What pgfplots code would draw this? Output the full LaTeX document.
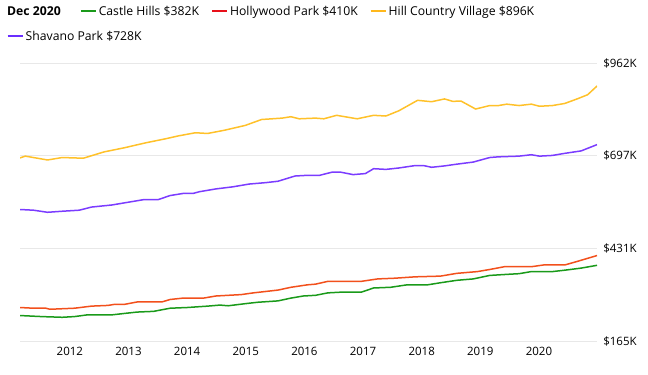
\documentclass[border=0pt]{standalone}
\usepackage{pgfplots}
\pgfplotsset{compat=1.18}
\usepackage{fontspec}
\setmainfont{Open Sans}
\definecolor{cgreen}{HTML}{1A9A1A}
\definecolor{cred}{HTML}{F2501C}
\definecolor{cyellow}{HTML}{FFC12A}
\definecolor{cpurple}{HTML}{7B3CFF}
\definecolor{lgreen}{HTML}{1A9A1A}
\definecolor{lred}{HTML}{E8101A}
\definecolor{lyellow}{HTML}{FFB81C}
\definecolor{lpurple}{HTML}{6A2EFF}
\definecolor{cgrid}{HTML}{E8E8E8}
\newcommand{\swatch}[1]{{\color{#1}\rule[0.28em]{15bp}{1.7bp}}\hspace{3bp}}
\begin{document}
\fontsize{12.2bp}{14bp}\selectfont
\begin{tikzpicture}[x=1bp,y=1bp]
\useasboundingbox (0,0) rectangle (648,374);
\begin{axis}[
  at={(20bp,33bp)}, anchor=south west,
  scale only axis, width=577bp, height=278bp,
  xmin=2011.15, xmax=2020.99, ymin=165, ymax=962,
  axis line style={draw=none},
  major tick length=0pt,
  xtick={2012,2013,2014,2015,2016,2017,2018,2019,2020},
  xticklabels={2012,2013,2014,2015,2016,2017,2018,2019,2020},
  ytick={165,431,697,962},
  yticklabels={\$165K,\$431K,\$697K,\$962K},
  yticklabel pos=right,
  ymajorgrids, grid style={cgrid, line width=0.8bp},
  /pgf/number format/assume math mode=true,
  tick label style={font=\fontsize{11.5bp}{13bp}\selectfont},
  xticklabel style={yshift=-2bp},
  yticklabel style={xshift=2bp},
  legend columns=4,
  legend cell align=left,
  legend style={at={(axis description cs:-0.0225,1.205)}, anchor=north west,
    draw=none, fill=none, inner sep=0pt,
    nodes={inner sep=0pt},
    /tikz/every odd column/.append style={column sep=0pt},
    /tikz/every even column/.append style={column sep=13bp},
    row sep=14bp},
  every axis plot/.append style={line width=1.5bp, line join=round},
]
\addlegendimage{empty legend}
\addlegendentry{\textbf{Dec 2020}\kern7bp\null}
\addplot[cgreen, forget plot] coordinates {(2011.15,238)(2011.52,235)(2011.87,233)(2012.08,235)(2012.30,240)(2012.72,240)(2012.93,244)(2013.15,248)(2013.43,250)(2013.71,259)(2014.00,261)(2014.35,265)(2014.56,268)(2014.70,266)(2014.99,272)(2015.20,276)(2015.55,280)(2015.77,288)(2015.98,294)(2016.19,296)(2016.40,303)(2016.62,305)(2016.97,305)(2017.18,317)(2017.47,319)(2017.75,326)(2018.10,326)(2018.32,332)(2018.60,339)(2018.88,343)(2019.16,353)(2019.45,356)(2019.66,358)(2019.87,364)(2020.23,364)(2020.44,368)(2020.72,374)(2020.99,382)};
\addlegendimage{empty legend}
\addlegendentry{\swatch{lgreen}Castle Hills \$382K}
\addplot[cred, forget plot] coordinates {(2011.15,261)(2011.38,259)(2011.59,259)(2011.66,256)(2012.08,259)(2012.37,265)(2012.65,267)(2012.76,270)(2012.93,270)(2013.15,277)(2013.57,277)(2013.71,284)(2013.93,288)(2014.28,288)(2014.49,294)(2014.70,296)(2014.92,298)(2015.13,303)(2015.34,307)(2015.55,311)(2015.77,319)(2016.05,326)(2016.19,328)(2016.40,336)(2016.69,336)(2016.97,336)(2017.25,343)(2017.54,345)(2017.89,349)(2018.32,351)(2018.60,359)(2018.95,364)(2019.16,370)(2019.41,378)(2019.87,378)(2020.08,383)(2020.44,383)(2020.65,393)(2020.99,410)};
\addlegendimage{empty legend}
\addlegendentry{\swatch{lred}Hollywood Park \$410K}
\addplot[cyellow, forget plot] coordinates {(2011.15,690)(2011.24,695)(2011.62,684)(2011.87,691)(2012.23,689)(2012.58,707)(2012.93,719)(2013.29,733)(2013.64,745)(2013.85,753)(2014.14,762)(2014.35,760)(2014.63,769)(2014.99,783)(2015.27,800)(2015.62,804)(2015.77,808)(2015.91,802)(2016.19,804)(2016.33,802)(2016.55,812)(2016.90,802)(2017.18,812)(2017.39,810)(2017.61,825)(2017.93,855)(2018.17,851)(2018.39,859)(2018.53,852)(2018.67,853)(2018.92,830)(2019.16,840)(2019.31,840)(2019.45,844)(2019.66,840)(2019.87,844)(2020.01,838)(2020.23,840)(2020.44,846)(2020.65,859)(2020.83,871)(2020.99,896)};
\addlegendimage{empty legend}
\addlegendentry{\swatch{lyellow}Hill Country Village \$896K}
\addplot[cpurple, forget plot] coordinates {(2011.15,542)(2011.38,540)(2011.62,534)(2011.87,537)(2012.16,540)(2012.37,549)(2012.72,555)(2012.93,561)(2013.25,570)(2013.50,570)(2013.71,582)(2013.93,588)(2014.10,588)(2014.21,593)(2014.49,601)(2014.78,607)(2015.06,615)(2015.34,619)(2015.55,623)(2015.84,638)(2016.05,640)(2016.26,640)(2016.47,649)(2016.62,649)(2016.83,642)(2017.04,645)(2017.18,659)(2017.39,657)(2017.61,661)(2017.89,668)(2018.03,668)(2018.17,663)(2018.39,667)(2018.60,672)(2018.88,678)(2019.16,691)(2019.31,693)(2019.66,695)(2019.87,699)(2020.01,695)(2020.23,697)(2020.44,703)(2020.72,710)(2020.99,728)};
\addlegendimage{empty legend}
\addlegendentry{\rlap{\swatch{lpurple}Shavano Park \$728K}}
\end{axis}
\end{tikzpicture}
\end{document}
